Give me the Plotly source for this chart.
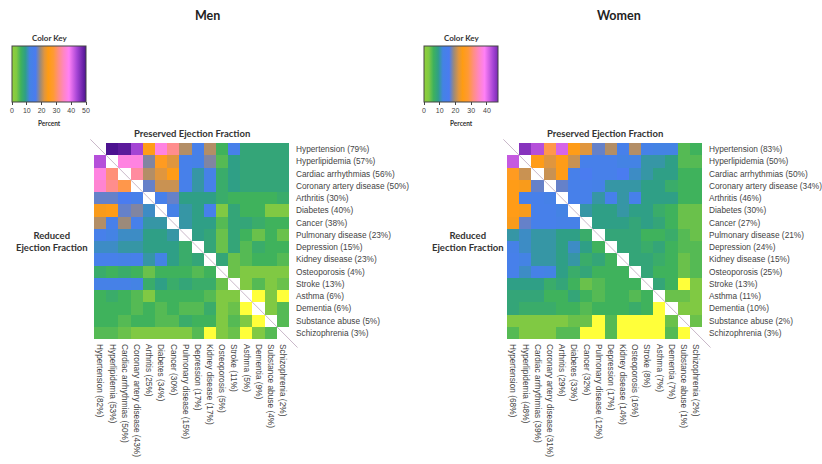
import plotly.graph_objects as go

# ---------------- data ----------------
men_rows = ["Hypertension (79%)", "Hyperlipidemia (57%)", "Cardiac arrhythmias (56%)",
            "Coronary artery disease (50%)", "Arthritis (30%)", "Diabetes (40%)", "Cancer (38%)",
            "Pulmonary disease (23%)", "Depression (15%)", "Kidney disease (23%)",
            "Osteoporosis (4%)", "Stroke (13%)", "Asthma (6%)", "Dementia (6%)",
            "Substance abuse (5%)", "Schizophrenia (3%)"]
men_cols = ["Hypertension (82%)", "Hyperlipidemia (53%)", "Cardiac arrhythmias (50%)",
            "Coronary artery disease (43%)", "Arthritis (25%)", "Diabetes (34%)", "Cancer (30%)",
            "Pulmonary disease (15%)", "Depression (17%)", "Kidney disease (17%)",
            "Osteoporosis (5%)", "Stroke (11%)", "Asthma (5%)", "Dementia (9%)",
            "Substance abuse (4%)", "Schizophrenia (2%)"]
women_rows = ["Hypertension (83%)", "Hyperlipidemia (50%)", "Cardiac arrhythmias (50%)",
              "Coronary artery disease (34%)", "Arthritis (46%)", "Diabetes (30%)", "Cancer (27%)",
              "Pulmonary disease (21%)", "Depression (24%)", "Kidney disease (15%)",
              "Osteoporosis (25%)", "Stroke (13%)", "Asthma (11%)", "Dementia (10%)",
              "Substance abuse (2%)", "Schizophrenia (3%)"]
women_cols = ["Hypertension (68%)", "Hyperlipidemia (48%)", "Cardiac arrhythmias (39%)",
              "Coronary artery disease (31%)", "Arthritis (29%)", "Diabetes (33%)", "Cancer (32%)",
              "Pulmonary disease (12%)", "Depression (17%)", "Kidney disease (14%)",
              "Osteoporosis (16%)", "Stroke (8%)", "Asthma (7%)", "Dementia (7%)",
              "Substance abuse (1%)", "Schizophrenia (2%)"]

N = None
men_values = [
    [N, 50, 49, 44, 25, 37, 32, 20, 14, 20, 6, 14, 8, 8, 8, 8],
    [43, N, 37, 37, 18, 26, 22, 14, 13, 18, 5, 9, 8, 8, 8, 8],
    [37, 31, N, 33, 20, 22, 25, 14, 10, 13, 7, 9, 8, 8, 8, 8],
    [36, 32, 29, N, 17, 21, 21, 14, 10, 14, 7, 9, 8, 8, 8, 8],
    [17, 17, 16, 14, N, 14, 17, 9, 9, 9, 7, 6, 6, 6, 6, 7],
    [24, 25, 17, 18, 11, N, 13, 10, 9, 14, 3, 8, 6, 6, 3, 3],
    [20, 14, 19, 14, 10, 10, N, 10, 9, 9, 5, 8, 8, 7, 6, 6],
    [14, 12, 11, 11, 9, 9, 10, N, 9, 8, 4, 8, 6, 4, 6, 4],
    [11, 11, 10, 10, 9, 9, 9, 7, N, 8, 4, 8, 5, 7, 6, 6],
    [14, 14, 13, 14, 10, 12, 9, 7, 8, N, 8, 4, 5, 6, 6, 5],
    [7, 6, 7, 6, 4, 6, 6, 6, 5, 6, N, 4, 3, 3, 3, 3],
    [13, 13, 13, 12, 7, 9, 7, 8, 7, 7, 4, N, 3, 5, 3, 4],
    [6, 7, 6, 5, 3, 6, 6, 6, 6, 5, 3, 3, N, 0, 3, 0],
    [6, 6, 6, 5, 6, 5, 6, 5, 5, 7, 3, 4, 0, N, 3, 5],
    [6, 6, 5, 6, 6, 5, 5, 7, 6, 6, 3, 5, 3, 0, N, 5],
    [5, 5, 4, 3, 3, 3, 3, 3, 5, 0, 3, 4, 0, 3, 5, N],
]
women_values = [
    [N, 46, 43, 29, 41, 25, 22, 17, 20, 14, 20, 13, 12, 12, 5, 6],
    [42, N, 25, 22, 25, 21, 14, 14, 14, 12, 12, 10, 10, 9, 5, 5],
    [26, 21, N, 21, 25, 14, 16, 14, 14, 16, 11, 10, 9, 9, 6, 6],
    [25, 24, 17, N, 17, 14, 14, 13, 10, 10, 10, 9, 9, 7, 6, 6],
    [25, 14, 14, 13, N, 14, 14, 10, 14, 10, 14, 9, 9, 9, 6, 6],
    [25, 24, 14, 14, 12, N, 10, 9, 9, 10, 9, 9, 7, 6, 4, 4],
    [24, 17, 14, 14, 13, 13, N, 9, 9, 9, 8, 9, 8, 6, 4, 4],
    [10, 11, 10, 10, 9, 9, 7, N, 8, 8, 8, 6, 6, 7, 5, 4],
    [13, 11, 10, 10, 9, 11, 9, 6, N, 8, 8, 7, 8, 6, 5, 5],
    [14, 12, 10, 10, 9, 10, 7, 8, 6, N, 8, 8, 7, 6, 4, 5],
    [14, 11, 13, 12, 9, 7, 8, 6, 6, 6, N, 8, 6, 6, 4, 5],
    [9, 9, 9, 7, 8, 6, 4, 5, 6, 6, 6, N, 8, 6, 0, 3],
    [8, 8, 8, 6, 6, 8, 6, 5, 6, 6, 5, 6, N, 4, 4, 3],
    [8, 7, 7, 7, 6, 6, 5, 6, 6, 6, 7, 6, 0, N, 3, 3],
    [3, 3, 3, 3, 3, 4, 4, 0, 5, 0, 0, 0, 0, 4, N, 4],
    [5, 3, 3, 3, 5, 5, 0, 0, 5, 0, 0, 0, 0, 5, 0, N],
]
men_key_ticks = [0, 10, 20, 30, 40, 50]
women_key_ticks = [0, 10, 20, 30, 40]
men_max = 50
women_max = 47

# colour stops in percent
color_stops = [
    (0.0, "#ffff3a"), (0.25, "#8fd03c"), (3, "#80c943"), (6, "#3fb25c"),
    (9, "#2f9f86"), (12, "#4483e4"), (16, "#4a7cf0"), (19, "#9c8a7a"),
    (22, "#e0963e"), (24.5, "#ff9c12"), (28, "#ff9a34"), (31.5, "#ff8e84"),
    (35, "#ff86c4"), (38.5, "#ff80f6"), (44, "#a444d4"), (50, "#4c1290"),
]


def scale_for(vmax):
    out = []
    prev = None
    for v, c in color_stops:
        if v <= vmax:
            out.append([v / vmax, c])
        else:
            pv, pc = prev
            t = (vmax - pv) / (v - pv)
            a = [int(pc[i:i + 2], 16) for i in (1, 3, 5)]
            b = [int(c[i:i + 2], 16) for i in (1, 3, 5)]
            m = [round(a[k] + (b[k] - a[k]) * t) for k in range(3)]
            out.append([1.0, "rgb(%d,%d,%d)" % tuple(m)])
            break
        prev = (v, c)
    return out


W, H = 822, 464
LABEL_FONT = dict(family="Liberation Sans, Arial", size=8.3, color="#444444")
BOLD = "Lato, Open Sans, sans-serif"

panels = [
    dict(vals=men_values, rows=men_rows, cols=men_cols, x0=94, x1=289, y0=143, y1=339,
         vmax=men_max, ticks=men_key_ticks, key_cx=49, title="Men", title_x=207,
         red_x=52),
    dict(vals=women_values, rows=women_rows, cols=women_cols, x0=507, x1=702, y0=143, y1=339,
         vmax=women_max, ticks=women_key_ticks, key_cx=461, title="Women", title_x=619,
         red_x=468),
]

fig = go.Figure()
annotations = []
shapes = []
layout = {}
for i, p in enumerate(panels):
    sfx = "" if i == 0 else str(i + 1)
    ca = "coloraxis" + sfx
    fig.add_trace(go.Heatmap(
        z=p["vals"], x=list(range(16)), y=list(range(16)), coloraxis=ca,
        xaxis="x" + sfx, yaxis="y" + sfx, hoverongaps=False, xgap=0, ygap=0))
    layout["xaxis" + sfx] = dict(
        domain=[p["x0"] / W, p["x1"] / W], range=[-0.5, 15.5], anchor="y" + sfx,
        tickmode="array", tickvals=list(range(16)), ticktext=p["cols"], tickangle=90,
        showgrid=False, zeroline=False, showline=False, ticks="", tickfont=LABEL_FONT,
        ticklabelstandoff=4, fixedrange=True)
    layout["yaxis" + sfx] = dict(
        domain=[1 - p["y1"] / H, 1 - p["y0"] / H], range=[15.5, -0.5], anchor="x" + sfx,
        side="right", tickmode="array", tickvals=list(range(16)), ticktext=p["rows"],
        showgrid=False, zeroline=False, showline=False, ticks="", tickfont=LABEL_FONT,
        ticklabelstandoff=6, fixedrange=True)
    layout[ca] = dict(
        cmin=0, cmax=p["vmax"], colorscale=scale_for(p["vmax"]),
        colorbar=dict(orientation="h", x=p["key_cx"] / W, xanchor="center",
                      y=1 - 46 / H, yanchor="top", len=74, lenmode="pixels",
                      thickness=56, thicknessmode="pixels", xpad=0, ypad=0,
                      outlinewidth=1, outlinecolor="#444", ticks="outside", ticklen=3,
                      tickcolor="#444", tickvals=p["ticks"],
                      tickfont=dict(family="Liberation Sans, Arial", size=7, color="#444")))
    cx = (p["x0"] + p["x1"]) / 2
    annotations += [
        dict(text="<b>%s</b>" % p["title"], x=p["title_x"] / W, y=1 - 16 / H,
             font=dict(family=BOLD, size=12.5, color="#222")),
        dict(text="<b>Preserved Ejection Fraction</b>", x=cx / W, y=1 - 134 / H,
             font=dict(family=BOLD, size=9.5, color="#333")),
        dict(text="<b>Reduced<br>Ejection Fraction</b>", x=p["red_x"] / W, y=1 - 241 / H,
             font=dict(family=BOLD, size=9.5, color="#333")),
        dict(text="<b>Color Key</b>", x=p["key_cx"] / W, y=1 - 38 / H,
             font=dict(family=BOLD, size=8, color="#333")),
        dict(text="<b>Percent</b>", x=p["key_cx"] / W, y=1 - 123 / H,
             font=dict(family=BOLD, size=6.5, color="#333")),
    ]
    cw = (p["x1"] - p["x0"]) / 16
    shapes.append(dict(type="line", xref="paper", yref="paper",
                       x0=(p["x0"] - 0.3 * cw) / W, y0=1 - (p["y0"] - 0.3 * cw) / H,
                       x1=(p["x1"] + 0.7 * cw) / W, y1=1 - (p["y1"] + 0.7 * cw) / H,
                       line=dict(color="#c9b8c9", width=1)))

for a in annotations:
    a.update(xref="paper", yref="paper", showarrow=False, xanchor="center", yanchor="middle")

fig.update_layout(
    width=W, height=H, margin=dict(l=0, r=0, t=0, b=0),
    paper_bgcolor="white", plot_bgcolor="white", showlegend=False,
    annotations=annotations, shapes=shapes, **layout)

fig.write_html("out.html", config={"displayModeBar": False},
               post_script="document.body.style.margin='0';document.body.style.overflow='hidden';")
